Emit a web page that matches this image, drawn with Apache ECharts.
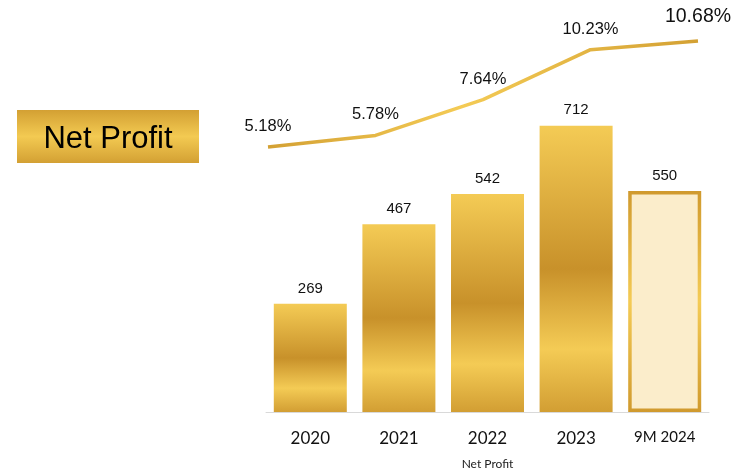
<!DOCTYPE html>
<html><head><meta charset="utf-8">
<script src="https://cdn.jsdelivr.net/npm/echarts@6/dist/echarts.min.js"></script>
<style>html,body{margin:0;padding:0;background:#fff}#c{width:738px;height:475px}</style>
</head><body><div id="c"></div>
<script>
var categories = ['2020', '2021', '2022', '2023', '9M 2024'];
var netProfit = [269, 467, 542, 712, 550];
var margin = [5.18, 5.78, 7.64, 10.23, 10.68];

var gold = function () {
  return new echarts.graphic.LinearGradient(0, 0, 0, 1, [
    {offset: 0, color: '#F4CB55'},
    {offset: 0.5, color: '#C8912A'},
    {offset: 0.78, color: '#F4CB55'},
    {offset: 1, color: '#D29E33'}
  ]);
};
var barData = netProfit.map(function (v, i) {
  if (i === netProfit.length - 1) {
    return {value: v, itemStyle: {color: '#FBEDCB', borderWidth: 3.5,
      borderColor: new echarts.graphic.LinearGradient(0, 0, 0, 1, [
        {offset: 0, color: '#D09A2E'}, {offset: 0.5, color: '#F4CB55'}, {offset: 1, color: '#D09A2E'}])}};
  }
  return {value: v, itemStyle: {color: gold()}};
});
var lineData = margin.map(function (v, i) {
  if (i === margin.length - 1) {
    return {value: v, label: {fontSize: 19.5, distance: 13}};
  }
  return {value: v};
});

var chart = echarts.init(document.getElementById('c'));
chart.setOption({
  animation: false,
  graphic: [{
    type: 'rect', left: 17, top: 110, shape: {width: 182, height: 53},
    style: {fill: new echarts.graphic.LinearGradient(0, 0, 0, 1, [
      {offset: 0, color: '#D3A033'}, {offset: 0.5, color: '#F3CA52'}, {offset: 1, color: '#D3A033'}])}
  }, {
    type: 'text', x: 108, y: 139,
    style: {text: 'Net Profit', fill: '#000', font: '31px "Liberation Sans", Arial', textAlign: 'center', textVerticalAlign: 'middle'}
  }],
  grid: [
    {left: 266, right: 29, top: 10, bottom: 63},
    {left: 268, right: 40, top: 15.6, height: 231.2}
  ],
  xAxis: [{
    type: 'category', data: categories, gridIndex: 0,
    axisLine: {lineStyle: {color: '#D9D9D9', width: 1}}, axisTick: {show: false},
    axisLabel: {interval: 0, hideOverlap: false, color: '#111', fontSize: 17, fontFamily: 'Lato', margin: 18,
      formatter: function (v) { return v.indexOf('9M') === 0 ? '{s|' + v + '}' : v; },
      rich: {s: {fontSize: 15, fontFamily: 'Lato', color: '#111'}}},
    name: 'Net Profit', nameLocation: 'middle', nameGap: 46,
    nameTextStyle: {color: '#222', fontSize: 12, fontFamily: 'Lato'}
  }, {
    type: 'category', data: categories, gridIndex: 1, boundaryGap: false, show: false
  }],
  yAxis: [{
    type: 'value', gridIndex: 0, min: 0, max: 1000, show: false, splitLine: {show: false}
  }, {
    type: 'value', gridIndex: 1, min: 0, max: 12, show: false, splitLine: {show: false}
  }],
  series: [{
    type: 'bar', xAxisIndex: 0, yAxisIndex: 0, data: barData, barWidth: 73,
    label: {show: true, position: 'top', distance: 8, color: '#111', fontSize: 15, fontFamily: '"Liberation Sans", Arial'}
  }, {
    type: 'line', xAxisIndex: 1, yAxisIndex: 1, data: lineData,
    symbol: 'circle', symbolSize: 2, showSymbol: true,
    itemStyle: {color: 'rgba(0,0,0,0)', borderWidth: 0},
    lineStyle: {width: 3.5, color: new echarts.graphic.LinearGradient(0, 0, 1, 0, [
      {offset: 0, color: '#D3A033'}, {offset: 0.45, color: '#F4CB55'}, {offset: 1, color: '#D3A033'}])},
    label: {show: true, position: 'top', distance: 11, color: '#111', fontSize: 16.5, fontFamily: '"Liberation Sans", Arial',
      formatter: function (p) { return p.value.toFixed(2) + '%'; }},
    labelLayout: {hideOverlap: false}
  }]
});
</script></body></html>
